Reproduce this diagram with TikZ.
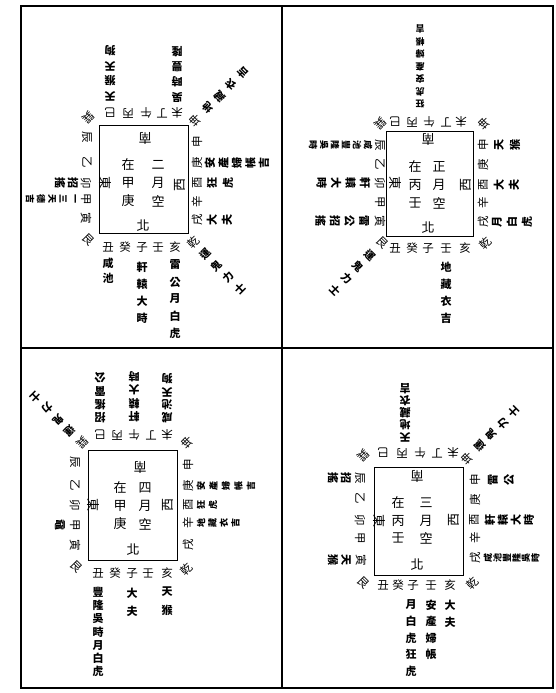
\documentclass[tikz,border=0pt]{standalone}
\usepackage{fontspec}
\setmainfont{Noto Sans CJK TC}
\tikzset{
  ch/.style={inner sep=0pt, font=\fontsize{11.5}{11.5}\selectfont},
  inn/.style={inner sep=0pt, font=\fontsize{13}{13}\selectfont},
  lb/.style={inner sep=0pt, font=\fontsize{11}{11}\selectfont\bfseries},
  dg/.style={inner sep=0pt, font=\fontsize{10.5}{10.5}\selectfont\bfseries},
  sm/.style={inner sep=0pt, font=\fontsize{9}{9}\selectfont\bfseries},
  frame/.style={line width=1.8pt},
  divider/.style={line width=1.4pt},
  palace/.style={line width=0.8pt},
}
% #1 name, #2 style, #3 x, #4 y (image, downwards), #5 rotation, #6 step, #7 glyphs
\newcommand\strand[7]{%
  \pgfmathsetmacro\sdir{#5-90}%
  \foreach \gly [count=\i from 0] in {#7}{%
    \node[#2, rotate=#5] (#1-\i) at ([shift={(\sdir:\i*#6)}] #3,-#4) {\gly};
  }}
% single base glyph
\newcommand\basech[5]{\node[ch, rotate=#4] (#1) at (#2,-#3) {#5};}
\newcommand\innch[5]{\node[inn, rotate=#4] (#1) at (#2,-#3) {#5};}

\begin{document}
\begin{tikzpicture}[x=1pt,y=1pt]
\useasboundingbox (0,0) rectangle (555,-693);
\fill[white] (0,0) rectangle (555,-693);

% ---------- frame ----------
\draw[frame] (21,-6) rectangle (553,-688);
\draw[divider] (282,-6) -- (282,-688);
\draw[divider] (21,-348) -- (553,-348);

% ================= TOP LEFT : 二月 =================
\draw[palace] (99,-125) rectangle (188,-233);
\innch{tl-s}{145}{138}{180}{南}
\strand{tl-c1}{inn}{128}{165}{0}{18}{在,甲,庚}
\strand{tl-c2}{inn}{158}{165}{0}{18}{二,月,空}
\innch{tl-n}{143}{226}{0}{北}
\innch{tl-e}{105}{183}{-90}{東}
\innch{tl-w}{180}{185}{90}{西}
% top
\basech{tl-xun}{88}{118}{-135}{巽}
\basech{tl-si}{110}{113}{180}{巳}
\basech{tl-bing}{128}{113}{180}{丙}
\basech{tl-wu}{146}{113}{180}{午}
\basech{tl-ding}{162}{113}{180}{丁}
\basech{tl-wei}{177}{113}{180}{未}
\basech{tl-kun}{195}{121}{135}{坤}
\strand{tl-sil}{lb}{110}{96}{180}{15}{天,猴,天,狗}
\strand{tl-weil}{lb}{177}{97}{180}{15}{吳,時,豐,隆}
\strand{tl-kunl}{dg}{208}{108}{135}{16.5}{地,藏,衣,吉}
% left
\basech{tl-chen}{87}{137}{-90}{辰}
\basech{tl-yi}{87}{162}{-90}{乙}
\basech{tl-mao}{86}{183}{-90}{卯}
\basech{tl-jia}{86}{199}{-90}{甲}
\basech{tl-yin}{86}{218}{-90}{寅}
\basech{tl-gen}{88}{240}{-45}{艮}
\strand{tl-maol}{lb}{73}{183}{-90}{13}{招,搖}
\strand{tl-jial}{sm}{74}{199}{-90}{11}{一,三,天,德,吉}
% right
\basech{tl-shen}{197}{142}{90}{申}
\basech{tl-geng}{197}{163}{90}{庚}
\basech{tl-you}{197}{183}{90}{酉}
\basech{tl-xin}{197}{202}{90}{辛}
\basech{tl-xu}{197}{220}{90}{戌}
\basech{tl-qian}{193}{242}{45}{乾}
\strand{tl-gengl}{lb}{210}{163}{90}{13.5}{安,產,婦,帳,吉}
\strand{tl-youl}{lb}{212}{183}{90}{16}{狂,虎}
\strand{tl-xul}{lb}{212}{220}{90}{15}{大,夫}
\strand{tl-qianl}{dg}{205}{254}{45}{16.5}{運,鬼,力,士}
% bottom
\basech{tl-chou}{108}{247}{0}{丑}
\basech{tl-gui}{125}{247}{0}{癸}
\basech{tl-zi}{142}{247}{0}{子}
\basech{tl-ren}{158}{247}{0}{壬}
\basech{tl-hai}{175}{247}{0}{亥}
\strand{tl-choul}{lb}{108}{263}{0}{15}{咸,池}
\strand{tl-zil}{lb}{142}{267}{0}{17}{軒,轅,大,時}
\strand{tl-hail}{lb}{175}{265}{0}{17}{雷,公,月,白,虎}

% ================= TOP RIGHT : 正月 =================
\draw[palace] (386,-131) rectangle (473,-236);
\innch{tr-s}{428}{139}{180}{南}
\strand{tr-c1}{inn}{415}{167}{0}{18}{在,丙,壬}
\strand{tr-c2}{inn}{439}{167}{0}{18}{正,月,空}
\innch{tr-n}{428}{228}{0}{北}
\innch{tr-e}{395}{183}{-90}{東}
\innch{tr-w}{466}{185}{90}{西}
% top
\basech{tr-xun}{380}{124}{-135}{巽}
\basech{tr-si}{395}{122}{180}{巳}
\basech{tr-bing}{412}{122}{180}{丙}
\basech{tr-wu}{429}{122}{180}{午}
\basech{tr-ding}{446}{122}{180}{丁}
\basech{tr-wei}{461}{122}{180}{未}
\basech{tr-kun}{484}{124}{135}{坤}
\strand{tr-bingl}{sm}{420}{104}{180}{12.5}{狂,虎,安,產,婦,帳,吉}
% left
\basech{tr-chen}{380}{145}{-90}{辰}
\basech{tr-yi}{380}{164}{-90}{乙}
\basech{tr-mao}{380}{183}{-90}{卯}
\basech{tr-jia}{380}{202}{-90}{甲}
\basech{tr-yin}{380}{221}{-90}{寅}
\basech{tr-gen}{382}{243}{-45}{艮}
\strand{tr-chenl}{sm}{368}{145}{-90}{11}{咸,池,豐,隆,吳,時}
\strand{tr-maol}{lb}{365}{183}{-90}{14.5}{軒,轅,大,時}
\strand{tr-yinl}{lb}{364}{221}{-90}{14.5}{雷,公,招,搖}
\strand{tr-genl}{dg}{370}{255}{-45}{16.5}{運,鬼,力,士}
% right
\basech{tr-shen}{483}{145}{90}{申}
\basech{tr-geng}{483}{165}{90}{庚}
\basech{tr-you}{483}{185}{90}{酉}
\basech{tr-xin}{483}{203}{90}{辛}
\basech{tr-xu}{483}{222}{90}{戌}
\basech{tr-qian}{485}{243}{45}{乾}
\strand{tr-shenl}{lb}{499}{145}{90}{16}{天,猴}
\strand{tr-youl}{lb}{499}{185}{90}{15}{大,夫}
\strand{tr-xul}{lb}{497}{222}{90}{15}{月,白,虎}
% bottom
\basech{tr-chou}{395}{248}{0}{丑}
\basech{tr-gui}{412}{248}{0}{癸}
\basech{tr-zi}{428}{248}{0}{子}
\basech{tr-ren}{446}{248}{0}{壬}
\basech{tr-hai}{465}{248}{0}{亥}
\strand{tr-renl}{lb}{446}{267}{0}{17}{地,藏,衣,吉}

% ================= BOTTOM LEFT : 四月 =================
\draw[palace] (88,-450) rectangle (177,-560);
\innch{bl-s}{140}{467}{180}{南}
\strand{bl-c1}{inn}{120}{488}{0}{18}{在,甲,庚}
\strand{bl-c2}{inn}{145}{488}{0}{18}{四,月,空}
\innch{bl-n}{133}{550}{0}{北}
\innch{bl-e}{93}{505}{-90}{東}
\innch{bl-w}{168}{505}{90}{西}
% top
\basech{bl-xun}{82}{443}{-135}{巽}
\basech{bl-si}{100}{435}{180}{巳}
\basech{bl-bing}{117}{435}{180}{丙}
\basech{bl-wu}{134}{435}{180}{午}
\basech{bl-ding}{151}{435}{180}{丁}
\basech{bl-wei}{167}{435}{180}{未}
\basech{bl-kun}{187}{443}{135}{坤}
\strand{bl-sil}{lb}{100}{418}{180}{13.5}{招,搖,雷,公}
\strand{bl-wul}{lb}{134}{417}{180}{13.5}{軒,轅,大,時}
\strand{bl-weil}{lb}{167}{418}{180}{13}{咸,池,天,狗}
\strand{bl-xunl}{dg}{70}{431}{-135}{16}{運,鬼,力,士}
% left
\basech{bl-chen}{75}{462}{-90}{辰}
\basech{bl-yi}{75}{485}{-90}{乙}
\basech{bl-mao}{75}{505}{-90}{卯}
\basech{bl-jia}{75}{525}{-90}{甲}
\basech{bl-yin}{75}{545}{-90}{寅}
\basech{bl-gen}{76}{567}{-45}{艮}
\strand{bl-jial}{lb}{60}{525}{-90}{13}{黿}
% right
\basech{bl-shen}{188}{465}{90}{申}
\basech{bl-geng}{188}{486}{90}{庚}
\basech{bl-you}{188}{505}{90}{酉}
\basech{bl-xin}{188}{523}{90}{辛}
\basech{bl-xu}{188}{545}{90}{戌}
\basech{bl-qian}{186}{569}{45}{乾}
\strand{bl-gengl}{sm}{201}{486}{90}{12.5}{安,產,婦,帳,吉}
\strand{bl-youl}{sm}{201}{505}{90}{12}{狂,虎}
\strand{bl-xinl}{sm}{201}{523}{90}{11.5}{地,藏,衣,吉}
% bottom
\basech{bl-chou}{98}{573}{0}{丑}
\basech{bl-gui}{115}{573}{0}{癸}
\basech{bl-zi}{132}{573}{0}{子}
\basech{bl-ren}{148}{573}{0}{壬}
\basech{bl-hai}{167}{573}{0}{亥}
\strand{bl-choul}{lb}{98}{592}{0}{13.3}{豐,隆,吳,時,月,白,虎}
\strand{bl-zil}{lb}{132}{593}{0}{18}{大,夫}
\strand{bl-hail}{lb}{167}{592}{0}{18}{天,猴}

% ================= BOTTOM RIGHT : 三月 =================
\draw[palace] (374,-467) rectangle (463,-575);
\innch{br-s}{417}{476}{180}{南}
\strand{br-c1}{inn}{398}{503}{0}{17.5}{在,丙,壬}
\strand{br-c2}{inn}{426}{503}{0}{17.5}{三,月,空}
\innch{br-n}{417}{565}{0}{北}
\innch{br-e}{379}{521}{-90}{東}
\innch{br-w}{454}{520}{90}{西}
% top
\basech{br-xun}{363}{456}{-135}{巽}
\basech{br-si}{383}{453}{180}{巳}
\basech{br-bing}{402}{453}{180}{丙}
\basech{br-wu}{420}{453}{180}{午}
\basech{br-ding}{437}{453}{180}{丁}
\basech{br-wei}{453}{453}{180}{未}
\basech{br-kun}{467}{459}{135}{坤}
\strand{br-bingl}{lb}{405}{437}{180}{12}{天,地,藏,衣,吉}
\strand{br-kunl}{dg}{480}{446}{135}{16}{運,鬼,力,士}
% left
\basech{br-chen}{360}{478}{-90}{辰}
\basech{br-yi}{360}{498}{-90}{乙}
\basech{br-mao}{360}{520}{-90}{卯}
\basech{br-jia}{360}{538}{-90}{甲}
\basech{br-yin}{361}{560}{-90}{寅}
\basech{br-gen}{363}{583}{-45}{艮}
\strand{br-chenl}{lb}{346}{478}{-90}{13}{招,搖}
\strand{br-yinl}{lb}{346}{560}{-90}{13}{天,猴}
% right
\basech{br-shen}{475}{480}{90}{申}
\basech{br-geng}{475}{500}{90}{庚}
\basech{br-you}{474}{520}{90}{酉}
\basech{br-xin}{475}{538}{90}{辛}
\basech{br-xu}{475}{558}{90}{戌}
\basech{br-qian}{472}{583}{45}{乾}
\strand{br-shenl}{lb}{493}{480}{90}{16}{雷,公}
\strand{br-youl}{lb}{490}{520}{90}{13}{軒,轅,大,時}
\strand{br-xul}{sm}{488}{558}{90}{9.5}{咸,池,豐,隆,吳,時}
% bottom
\basech{br-chou}{383}{585}{0}{丑}
\basech{br-gui}{398}{585}{0}{癸}
\basech{br-zi}{413}{585}{0}{子}
\basech{br-ren}{431}{585}{0}{壬}
\basech{br-hai}{450}{585}{0}{亥}
\strand{br-zil}{lb}{411}{605}{0}{16.5}{月,白,虎,狂,虎}
\strand{br-renl}{lb}{431}{605}{0}{16.5}{安,產,婦,帳}
\strand{br-hail}{lb}{450}{605}{0}{17}{大,夫}
\end{tikzpicture}
\end{document}
